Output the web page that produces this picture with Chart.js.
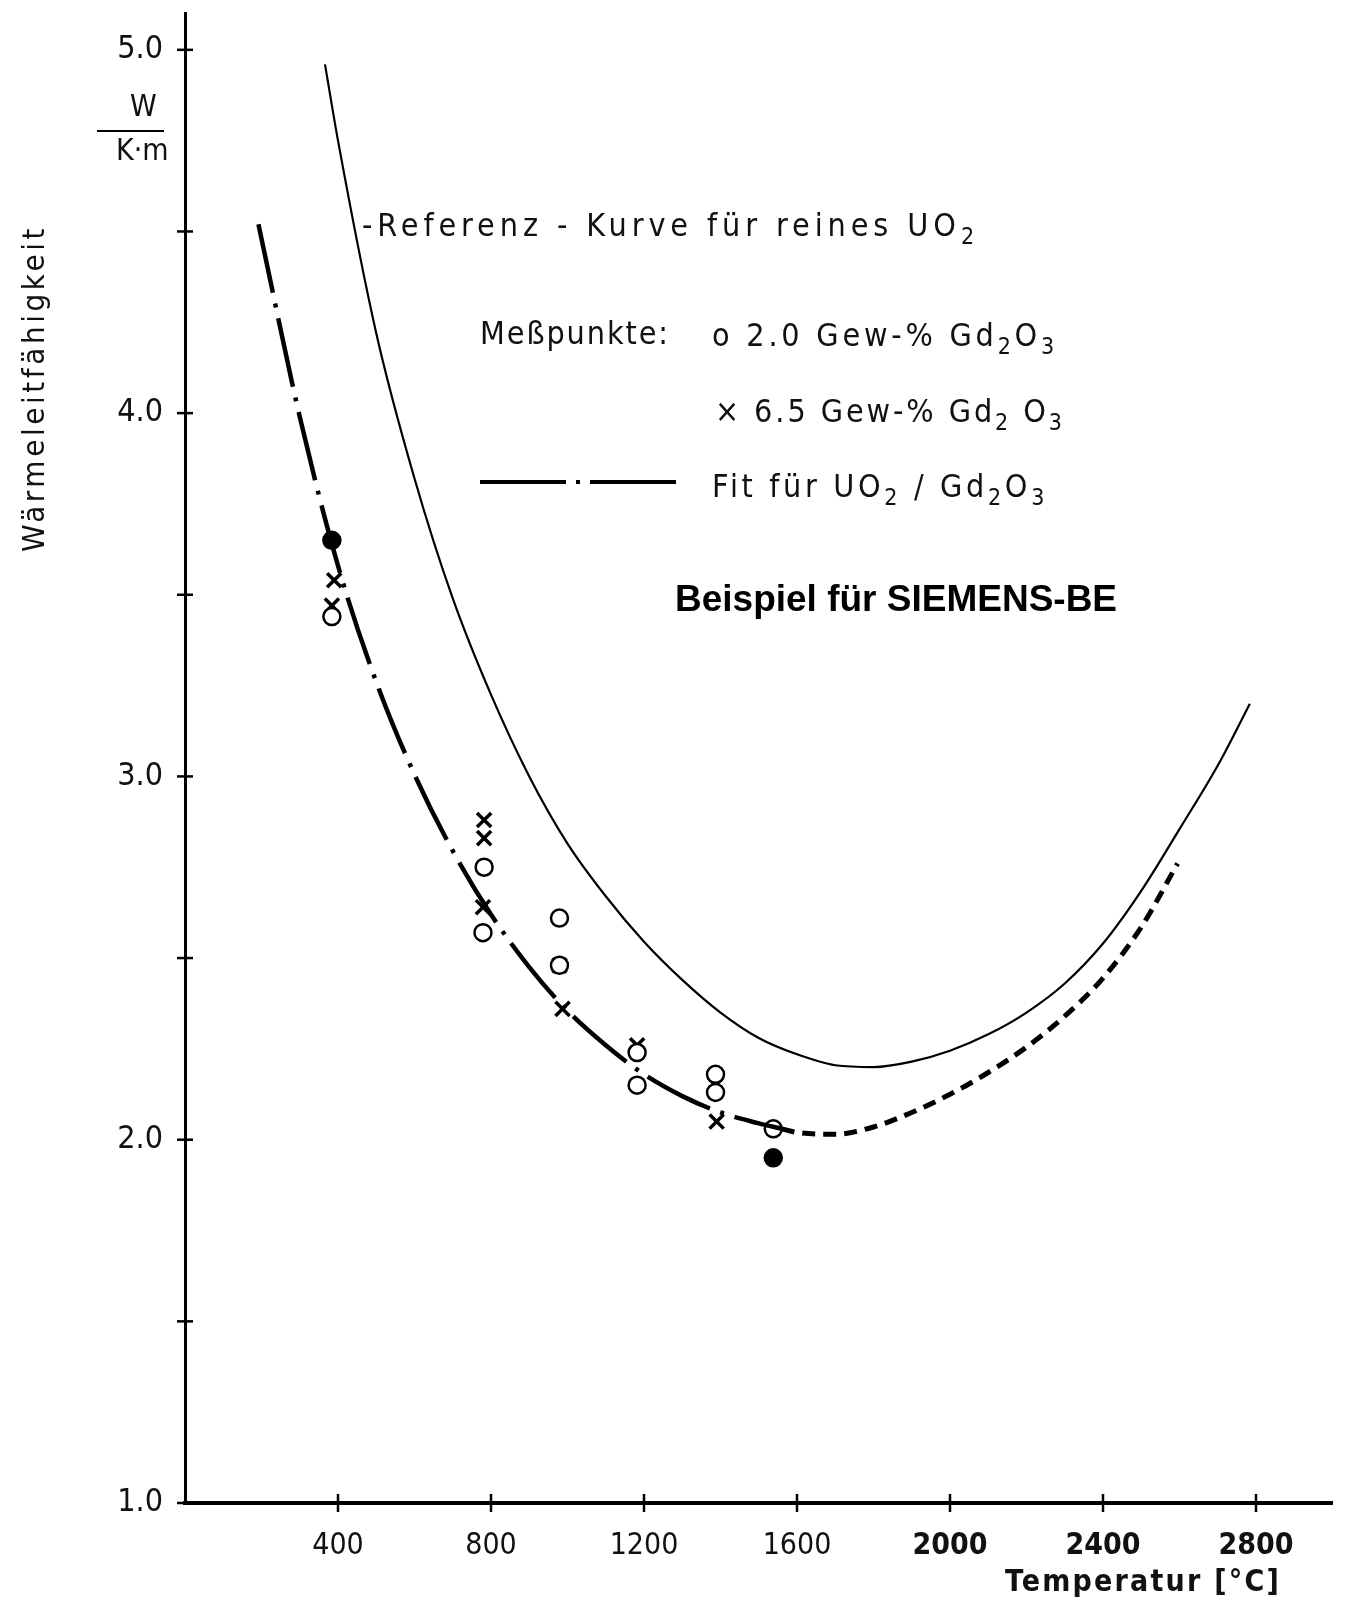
<!DOCTYPE html>
<html>
<head>
<meta charset="utf-8">
<script src="https://cdn.jsdelivr.net/npm/chart.js@4.4.1/dist/chart.umd.min.js"></script>
<style>
  body { margin: 0; background: #fff; }
  #wrap { width: 1346px; height: 1602px; }
</style>
</head>
<body>
<div id="wrap"><canvas id="chart" width="1346" height="1602"></canvas></div>
<script>
/* Axis ticks */
const xTicks = [400, 800, 1200, 1600, 2000, 2400, 2800];
const yTicks = [1.0, 1.5, 2.0, 2.5, 3.0, 3.5, 4.0, 4.5, 5.0];

/* Reference curve for pure UO2 (solid) */
const refTemp = [366, 400, 500, 600, 700, 800, 900, 1000, 1100, 1200, 1300, 1400, 1500, 1600, 1700, 1800,
                 1900, 2000, 2100, 2200, 2300, 2400, 2500, 2600, 2700, 2784];
const refK    = [4.96, 4.75, 4.22, 3.82, 3.49, 3.225, 3.00, 2.815, 2.67, 2.545, 2.44, 2.35, 2.28, 2.235, 2.205, 2.20,
                 2.215, 2.245, 2.29, 2.35, 2.43, 2.54, 2.685, 2.855, 3.03, 3.20];

/* Fit for UO2/Gd2O3, measured range (dash-dot) */
const fitTemp = [192, 300, 400, 500, 600, 700, 800, 900, 1000, 1100, 1200, 1300, 1400, 1500, 1560];
const fitK    = [4.52, 3.99, 3.58, 3.26, 3.005, 2.795, 2.62, 2.475, 2.355, 2.26, 2.18, 2.12, 2.075, 2.045, 2.03];

/* Fit extrapolated (dashed) */
const extTemp = [1560, 1600, 1700, 1800, 1900, 2000, 2100, 2200, 2300, 2400, 2500, 2595];
const extK    = [2.03, 2.02, 2.015, 2.035, 2.075, 2.125, 2.185, 2.255, 2.34, 2.445, 2.585, 2.76];

/* Measured points, 2.0 wt-% Gd2O3 (circles) */
const gd20Temp = [384, 384, 782, 779, 979, 979, 1182, 1182, 1387, 1387, 1538, 1538];
const gd20K    = [3.65, 3.44, 2.75, 2.57, 2.61, 2.48, 2.24, 2.15, 2.18, 2.13, 2.03, 1.95];
const gd20Fill = [true, false, false, false, false, false, false, false, false, false, false, true];

/* Measured points, 6.5 wt-% Gd2O3 (crosses) */
const gd65Temp = [390, 384, 782, 782, 779, 979, 987, 1182, 1387, 1390];
const gd65K    = [3.54, 3.47, 2.88, 2.83, 2.64, 2.48, 2.36, 2.26, 2.15, 2.05];

const FONT = '"DejaVu Sans Condensed", "DejaVu Sans", sans-serif';

function pts(xs, ys) {
  return xs.map((x, i) => ({ x: x, y: ys[i] }));
}

// draw text made of parts ([text, isSubscript]) stretched to a given width
function drawRich(ctx, parts, x, y, size, width, weight) {
  const w = weight ? weight + ' ' : '';
  const fontOf = p => w + (p[1] ? Math.round(size * 0.72) : size) + 'px ' + FONT;
  let natural = 0, chars = 0;
  ctx.letterSpacing = '0px';
  parts.forEach(p => {
    ctx.font = fontOf(p);
    natural += ctx.measureText(p[0]).width;
    chars += p[0].length;
  });
  const spacing = Math.max(0, (width - natural) / chars);
  ctx.letterSpacing = spacing.toFixed(2) + 'px';
  parts.forEach(p => {
    ctx.font = fontOf(p);
    ctx.fillText(p[0], x, p[1] ? y + size * 0.3 : y);
    x += ctx.measureText(p[0]).width;
  });
  ctx.letterSpacing = '0px';
}

const annotations = {
  id: 'annotations',
  afterDraw(chart) {
    const { ctx, chartArea, scales: { x, y } } = chart;
    ctx.save();
    ctx.strokeStyle = '#000';
    ctx.fillStyle = '#111';

    // ticks crossing the axes
    ctx.lineWidth = 2.5;
    y.ticks.forEach(t => {
      const py = y.getPixelForValue(t.value);
      ctx.beginPath();
      ctx.moveTo(chartArea.left - 8, py);
      ctx.lineTo(chartArea.left + 8, py);
      ctx.stroke();
    });
    x.ticks.forEach(t => {
      const px = x.getPixelForValue(t.value);
      ctx.beginPath();
      ctx.moveTo(px, chartArea.bottom - 9);
      ctx.lineTo(px, chartArea.bottom + 9);
      ctx.stroke();
    });

    ctx.textBaseline = 'middle';
    ctx.textAlign = 'left';

    // unit W / K·m
    drawRich(ctx, [['W', 0]], 130, 108, 30, 30);
    drawRich(ctx, [['K·m', 0]], 116, 152, 30, 48);
    ctx.lineWidth = 2;
    ctx.beginPath();
    ctx.moveTo(97, 131);
    ctx.lineTo(164, 131);
    ctx.stroke();

    // y title
    ctx.save();
    ctx.translate(36, 552);
    ctx.rotate(-Math.PI / 2);
    drawRich(ctx, [['Wärmeleitfähigkeit', 0]], 0, 0, 31, 327);
    ctx.restore();

    // x title
    drawRich(ctx, [['Temperatur [°C]', 0]], 1005, 1583, 30, 276, 'bold');

    // texts in the plot
    drawRich(ctx, [['-Referenz - Kurve für reines UO', 0], ['2', 1]], 362, 228, 32, 617);
    drawRich(ctx, [['Meßpunkte:', 0]], 480, 336, 32, 190);
    drawRich(ctx, [['o 2.0 Gew-% Gd', 0], ['2', 1], ['O', 0], ['3', 1]], 712, 338, 32, 346);
    drawRich(ctx, [['× 6.5 Gew-% Gd', 0], ['2', 1], [' O', 0], ['3', 1]], 715, 414, 32, 350);
    drawRich(ctx, [['Fit für UO', 0], ['2', 1], [' / Gd', 0], ['2', 1], ['O', 0], ['3', 1]], 712, 489, 32, 336);

    // legend sample for the fit line
    ctx.lineWidth = 4;
    ctx.setLineDash([86, 10, 4, 10]);
    ctx.beginPath();
    ctx.moveTo(480, 482);
    ctx.lineTo(676, 482);
    ctx.stroke();
    ctx.setLineDash([]);

    ctx.fillStyle = '#000';
    ctx.font = 'bold 37px "Liberation Sans", Arial, sans-serif';
    ctx.fillText('Beispiel für SIEMENS-BE', 675, 601);
    ctx.restore();
  }
};

new Chart(document.getElementById('chart'), {
  type: 'line',
  data: {
    datasets: [
      {
        data: pts(refTemp, refK),
        borderColor: '#000', borderWidth: 2.2, cubicInterpolationMode: 'monotone',
        pointRadius: 0, fill: false
      },
      {
        data: pts(fitTemp, fitK),
        borderColor: '#000', borderWidth: 4.5, cubicInterpolationMode: 'monotone',
        borderDash: [70, 11, 4, 11],
        pointRadius: 0, fill: false
      },
      {
        data: pts(extTemp, extK),
        borderColor: '#000', borderWidth: 5, cubicInterpolationMode: 'monotone',
        borderDash: [13, 8],
        pointRadius: 0, fill: false
      },
      {
        data: pts(gd20Temp, gd20K),
        showLine: false,
        pointStyle: 'circle', pointRadius: 8.5, borderWidth: 2.5,
        pointBorderColor: '#000',
        pointBackgroundColor: gd20Fill.map(f => f ? '#000' : '#fff')
      },
      {
        data: pts(gd65Temp, gd65K),
        showLine: false,
        pointStyle: 'crossRot', pointRadius: 10, borderWidth: 3.5,
        pointBorderColor: '#000'
      }
    ]
  },
  options: {
    responsive: false,
    animation: false,
    layout: { padding: { left: 0, top: 12, right: 8, bottom: 0 } },
    plugins: { legend: { display: false }, tooltip: { enabled: false } },
    scales: {
      x: {
        type: 'linear', min: 0, max: 3000,
        afterBuildTicks: s => { s.ticks = xTicks.map(v => ({ value: v })); },
        afterFit: s => { s.height = 99; s.paddingLeft = 0; s.paddingRight = 0; },
        grid: { display: false },
        border: { display: true, color: '#000', width: 4 },
        ticks: {
          padding: 17, color: '#111', autoSkip: false, maxRotation: 0,
          callback: v => String(v),
          font: c => ({ family: FONT, size: 30, weight: c.tick && c.tick.value >= 2000 ? 'bold' : 'normal' })
        }
      },
      y: {
        type: 'linear', min: 1, max: 5.1,
        afterBuildTicks: s => { s.ticks = yTicks.map(v => ({ value: v })); },
        afterFit: s => { s.width = 185; s.paddingTop = 0; s.paddingBottom = 0; },
        grid: { display: false },
        border: { display: true, color: '#000', width: 3 },
        ticks: {
          padding: 14, color: '#111', autoSkip: false,
          callback: v => Number.isInteger(v) ? v.toFixed(1) : '',
          font: { family: FONT, size: 32 }
        }
      }
    }
  },
  plugins: [annotations]
});
</script>
</body>
</html>
